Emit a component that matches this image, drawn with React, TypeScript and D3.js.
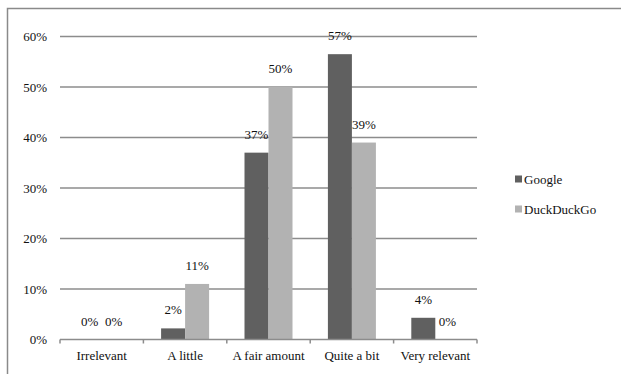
import React from "react";
import * as d3 from "d3";

const categories = ["Irrelevant", "A little", "A fair amount", "Quite a bit", "Very relevant"];
const googleValues = [0, 2.2, 37, 56.5, 4.3];
const duckValues = [0, 11, 50, 39, 0];
const googleLabels = ["0%", "2%", "37%", "57%", "4%"];
const duckLabels = ["0%", "11%", "50%", "39%", "0%"];
const yTicks = [0, 10, 20, 30, 40, 50, 60];
const seriesNames = ["Google", "DuckDuckGo"];
const seriesColors = ["#606060", "#b2b2b2"];

export default function App() {
  const W = 621, H = 374;
  const left = 60, right = 477, top = 36.5, bottom = 339.5;
  const x = d3.scaleBand<string>().domain(categories).range([left, right]).paddingInner(0).paddingOuter(0);
  const y = d3.scaleLinear().domain([0, 60]).range([bottom, top]);
  const barW = 24;
  const font = "Liberation Serif, Tinos, DejaVu Serif";
  const ts = { fontFamily: font, fontSize: "13px", fill: "#111" } as React.CSSProperties;
  const series = [googleValues, duckValues];
  const labels = [googleLabels, duckLabels];
  const ticks = d3.range(categories.length + 1).map(i => left + i * x.bandwidth());

  return (
    <svg width={W} height={H} style={{ position: "absolute", left: 0, top: 0, background: "#fff", fontFamily: font }}>
      <path d={`M7.5,${H} V8.5 H${W}`} fill="none" stroke="#8a8a8a" strokeWidth={1.5} />
      {yTicks.map(t => (
        <g key={t}>
          {t > 0 && <line x1={left} x2={right} y1={y(t)} y2={y(t)} stroke="#8c8c8c" strokeWidth={1.5} />}
          <text x={47} y={y(t)} dy="0.35em" textAnchor="end" style={ts}>{t}%</text>
        </g>
      ))}
      {categories.map((c, ci) => {
        const cx = (x(c) as number) + x.bandwidth() / 2;
        return (
          <g key={c}>
            {series.map((vals, si) => {
              const bx = cx - barW + si * barW;
              const v = vals[ci];
              return (
                <g key={si}>
                  {v > 0 && <rect x={bx} y={y(v)} width={barW} height={y(0) - y(v)} fill={seriesColors[si]} />}
                  <text x={bx + barW / 2} y={y(v) - 14} textAnchor="middle" style={ts}>{labels[si][ci]}</text>
                </g>
              );
            })}
            <text x={cx} y={355} dy="0.35em" textAnchor="middle" style={ts}>{c}</text>
          </g>
        );
      })}
      <line x1={left} x2={right} y1={bottom} y2={bottom} stroke="#8c8c8c" strokeWidth={1.5} />
      {ticks.map((tx, i) => (
        <line key={i} x1={tx} x2={tx} y1={bottom} y2={bottom + 4} stroke="#8c8c8c" strokeWidth={1.5} />
      ))}
      {seriesNames.map((n, i) => (
        <g key={n} transform={`translate(515,${179 + i * 30})`}>
          <rect x={0} y={-3.5} width={7} height={7} fill={seriesColors[i]} />
          <text x={9} y={0} dy="0.35em" style={ts}>{n}</text>
        </g>
      ))}
    </svg>
  );
}
